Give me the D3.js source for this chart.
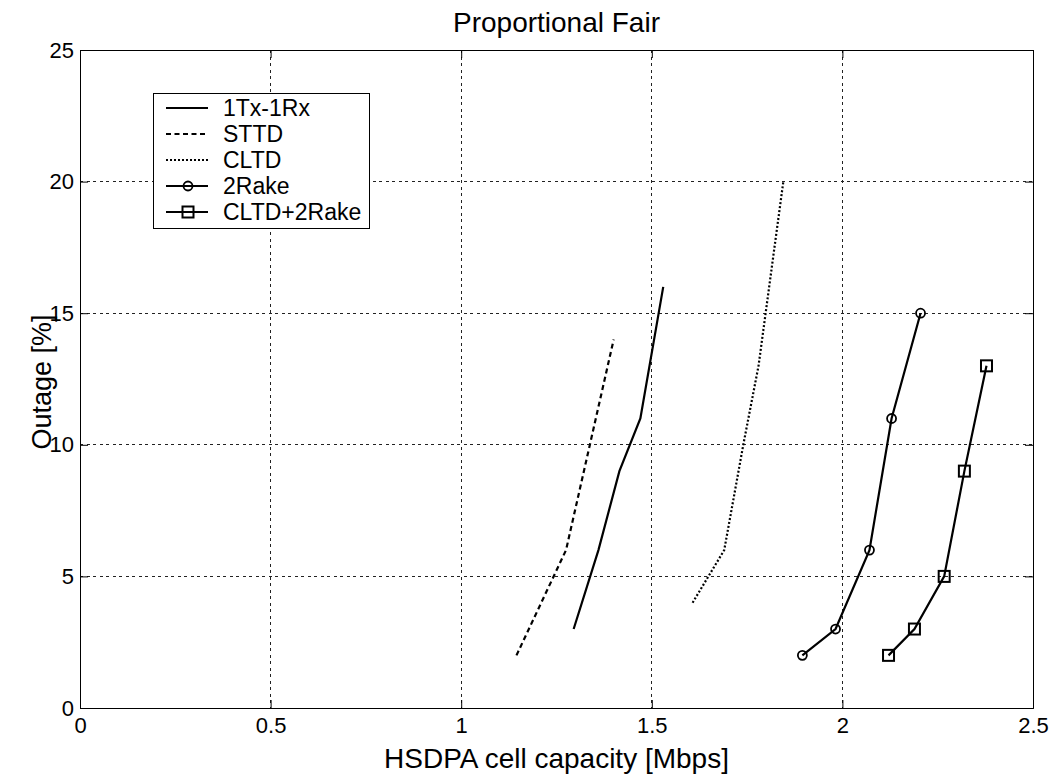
<!DOCTYPE html>
<html>
<head>
<meta charset="utf-8">
<script src="https://cdn.jsdelivr.net/npm/d3@7"></script>
<style>
    body { margin: 0; background: #fff; }
    svg { display: block; font-family: "Liberation Sans", Arial, sans-serif; }
    .grid line { stroke: #222; stroke-width: 1; stroke-dasharray: 3,3.5; shape-rendering: crispEdges; }
    .tick text { font-size: 22px; fill: #000; }
</style>
</head>
<body>
<div id="chart"></div>
<script>
// series names and values
var seriesNames = ['1Tx-1Rx', 'STTD', 'CLTD', '2Rake', 'CLTD+2Rake'];

var cap1Tx1Rx = [1.295, 1.36, 1.415, 1.47, 1.53],
    out1Tx1Rx = [3, 6, 9, 11, 16];
var capSTTD = [1.145, 1.275, 1.40],
    outSTTD = [2, 6, 14];
var capCLTD = [1.607, 1.69, 1.74, 1.78, 1.845],
    outCLTD = [4, 6, 10, 13, 20];
var cap2Rake = [1.895, 1.982, 2.071, 2.129, 2.205],
    out2Rake = [2, 3, 6, 11, 15];
var capCLTD2Rake = [2.121, 2.189, 2.267, 2.320, 2.378],
    outCLTD2Rake = [2, 3, 5, 9, 13];

var xTicks = [0, 0.5, 1, 1.5, 2, 2.5],
    yTicks = [0, 5, 10, 15, 20, 25];

var W = 1057, H = 780,
    pLeft = 80, pTop = 50, pRight = 1033, pBottom = 708;

var series = [
    {name: seriesNames[0], x: cap1Tx1Rx, y: out1Tx1Rx, dash: null, marker: null},
    {name: seriesNames[1], x: capSTTD, y: outSTTD, dash: '5,3.5', marker: null},
    {name: seriesNames[2], x: capCLTD, y: outCLTD, dash: '2,2', marker: null},
    {name: seriesNames[3], x: cap2Rake, y: out2Rake, dash: null, marker: 'circle'},
    {name: seriesNames[4], x: capCLTD2Rake, y: outCLTD2Rake, dash: null, marker: 'square'}
];

var svg = d3.select('#chart').append('svg')
    .attr('width', W)
    .attr('height', H);

var xScale = d3.scaleLinear().domain([0, 2.5]).range([pLeft, pRight]),
    yScale = d3.scaleLinear().domain([0, 25]).range([pBottom, pTop]);

// grid
var grid = svg.append('g').attr('class', 'grid');
grid.selectAll('.gx')
    .data(xTicks.slice(1, -1))
    .enter().append('line')
    .attr('x1', function(d) { return xScale(d); })
    .attr('x2', function(d) { return xScale(d); })
    .attr('y1', pTop)
    .attr('y2', pBottom);
grid.selectAll('.gy')
    .data(yTicks.slice(1, -1))
    .enter().append('line')
    .attr('x1', pLeft)
    .attr('x2', pRight)
    .attr('y1', function(d) { return yScale(d); })
    .attr('y2', function(d) { return yScale(d); });

// axes, ticks inside on all sides
var xAxis = d3.axisBottom(xScale).tickValues(xTicks).tickSize(-8).tickPadding(14)
        .tickFormat(function(d) { return d; }),
    yAxis = d3.axisLeft(yScale).tickValues(yTicks).tickSize(-8).tickPadding(14)
        .tickFormat(function(d) { return d; });

var xx = svg.append('g')
    .attr('transform', 'translate(0,' + pBottom + ')')
    .call(xAxis);
var yy = svg.append('g')
    .attr('transform', 'translate(' + pLeft + ',0)')
    .call(yAxis);
svg.append('g')
    .attr('transform', 'translate(0,' + pTop + ')')
    .call(d3.axisTop(xScale).tickValues(xTicks).tickSize(-8).tickFormat(''));
svg.append('g')
    .attr('transform', 'translate(' + pRight + ',0)')
    .call(d3.axisRight(yScale).tickValues(yTicks).tickSize(-8).tickFormat(''));

svg.selectAll('.domain').attr('stroke', '#000');
svg.selectAll('.tick line').attr('stroke', '#000');
xx.selectAll('.tick text').attr('dy', '0.71em').attr('y', 9);
yy.selectAll('.tick text').attr('x', -6);

// lines
var line = d3.line()
    .x(function(d) { return xScale(d[0]); })
    .y(function(d) { return yScale(d[1]); });

var plot = svg.append('g');
series.forEach(function(s) {
    var pts = s.x.map(function(v, i) { return [v, s.y[i]]; });
    plot.append('path')
        .attr('d', line(pts))
        .attr('fill', 'none')
        .attr('stroke', '#000')
        .attr('stroke-width', 2.2)
        .attr('stroke-dasharray', s.dash);
    if (s.marker === 'circle') {
        plot.selectAll(null).data(pts).enter().append('circle')
            .attr('cx', function(d) { return xScale(d[0]); })
            .attr('cy', function(d) { return yScale(d[1]); })
            .attr('r', 4.5)
            .attr('fill', 'none')
            .attr('stroke', '#000')
            .attr('stroke-width', 1.8);
    } else if (s.marker === 'square') {
        plot.selectAll(null).data(pts).enter().append('rect')
            .attr('x', function(d) { return xScale(d[0]) - 5.5; })
            .attr('y', function(d) { return yScale(d[1]) - 5.5; })
            .attr('width', 11)
            .attr('height', 11)
            .attr('fill', 'none')
            .attr('stroke', '#000')
            .attr('stroke-width', 2);
    }
});

// legend
var legend = svg.append('g');
legend.append('rect')
    .attr('x', 153.5).attr('y', 93.5)
    .attr('width', 216).attr('height', 135)
    .attr('fill', '#fff')
    .attr('stroke', '#000');

var items = legend.selectAll('.item')
    .data(series)
    .enter().append('g')
    .attr('transform', function(d, i) { return 'translate(0,' + (108 + i * 26) + ')'; });

items.append('line')
    .attr('x1', 166).attr('x2', 208)
    .attr('stroke', '#000')
    .attr('stroke-width', 2)
    .attr('stroke-dasharray', function(d) { return d.dash; });
items.filter(function(d) { return d.marker === 'circle'; }).append('circle')
    .attr('cx', 188).attr('r', 4.5)
    .attr('fill', 'none').attr('stroke', '#000').attr('stroke-width', 1.8);
items.filter(function(d) { return d.marker === 'square'; }).append('rect')
    .attr('x', 182.5).attr('y', -5.5).attr('width', 11).attr('height', 11)
    .attr('fill', 'none').attr('stroke', '#000').attr('stroke-width', 2);
items.append('text')
    .attr('x', 223)
    .attr('y', 8)
    .style('font-size', '23px')
    .text(function(d) { return d.name; });

// titles
svg.append('text')
    .attr('x', (pLeft + pRight) / 2)
    .attr('y', 32)
    .attr('text-anchor', 'middle')
    .style('font-size', '28px')
    .text('Proportional Fair');
svg.append('text')
    .attr('x', (pLeft + pRight) / 2)
    .attr('y', 768)
    .attr('text-anchor', 'middle')
    .style('font-size', '28px')
    .text('HSDPA cell capacity [Mbps]');
svg.append('text')
    .attr('transform', 'translate(51,382) rotate(-90)')
    .attr('text-anchor', 'middle')
    .style('font-size', '27px')
    .text('Outage [%]');
</script>
</body>
</html>
